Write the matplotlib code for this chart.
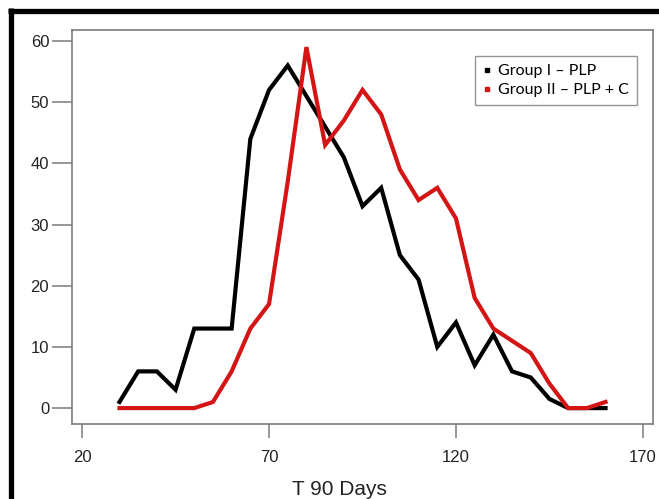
import matplotlib
matplotlib.use("Agg")
import matplotlib.pyplot as plt
from matplotlib.lines import Line2D

days = [30, 35, 40, 45, 50, 55, 60, 65, 70, 75, 80, 85, 90, 95, 100,
        105, 110, 115, 120, 125, 130, 135, 140, 145, 150, 155, 160]
group1 = [1, 6, 6, 3, 13, 13, 13, 44, 52, 56, 51, 46, 41, 33, 36,
          25, 21, 10, 14, 7, 12, 6, 5, 1.5, 0, 0, 0]
group2 = [0, 0, 0, 0, 0, 1, 6, 13, 17, 37, 59, 43, 47, 52, 48,
          39, 34, 36, 31, 18, 13, 11, 9, 4, 0, 0, 1]
x_ticks = [20, 70, 120, 170]
y_ticks = [0, 10, 20, 30, 40, 50, 60]
labels = ["Group I \u2013 PLP", "Group II \u2013 PLP + C"]
colors = ["#000000", "#d41515"]

W, H = 659, 499
fig = plt.figure(figsize=(W / 100, H / 100), dpi=100)
ax = fig.add_axes([72 / W, 1 - 424 / H, (653 - 72) / W, (424 - 30) / H])

ax.plot(days, group1, color=colors[0], lw=3.0, solid_joinstyle="miter")
ax.plot(days, group2, color=colors[1], lw=3.0, solid_joinstyle="miter")

ax.set_xlim(17.3, 172.7)
ax.set_ylim(-2.6, 61.8)
ax.set_xticks(x_ticks)
ax.set_yticks(y_ticks)

gray = "#7a7a7a"
for s in ax.spines.values():
    s.set_color(gray)
    s.set_linewidth(1.2)
ax.tick_params(axis="y", length=14.4, width=1.1, color=gray, pad=2,
               labelsize=12, labelcolor="#222222")
ax.tick_params(axis="x", length=10, width=1.1, color=gray, pad=9,
               labelsize=12, labelcolor="#222222")
for lab in ax.get_xticklabels() + ax.get_yticklabels():
    lab.set_family("Liberation Sans")

fig.text(292 / W, 1 - 495 / H, "T 90 Days", ha="left", va="baseline",
         fontsize=15, family="Liberation Sans", color="#222222")

handles = [Line2D([], [], ls="none", marker="s", markersize=2.2,
                  color=c) for c in colors]
leg = ax.legend(handles, labels, loc="upper left",
                bbox_to_anchor=(475 / W, 1 - 56 / H),
                bbox_transform=fig.transFigure,
                frameon=True, fancybox=False, handlelength=0.5,
                handletextpad=0.45, borderpad=0.5, labelspacing=0.3,
                borderaxespad=0,
                prop={"family": "Lato", "size": 11.5})
leg.get_frame().set_edgecolor(gray)
leg.get_frame().set_linewidth(1.0)

# outer black border (left and top)
fig.add_artist(Line2D([10.5 / W, 10.5 / W], [0, 1 - 8 / H], color="black",
                      lw=3.8, transform=fig.transFigure, solid_capstyle="butt"))
fig.add_artist(Line2D([8 / W, 1], [1 - 10.5 / H, 1 - 10.5 / H], color="black",
                      lw=3.8, transform=fig.transFigure, solid_capstyle="butt"))

fig.savefig("out.png", dpi=100)
